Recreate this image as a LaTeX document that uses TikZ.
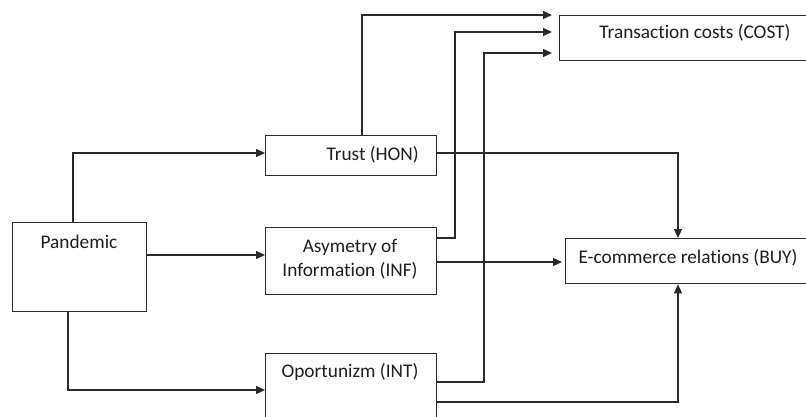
\documentclass[tikz,border=0pt]{standalone}
\usepackage{fontspec}
\setmainfont[Ligatures={NoCommon}]{Carlito}
\usetikzlibrary{arrows.meta,calc}
\definecolor{ln}{HTML}{2A2A2A}
\definecolor{tx}{HTML}{1E1E1E}
\begin{document}
\begin{tikzpicture}[x=1pt,y=-1pt,
  box/.style={draw=ln,line width=1.3pt,rectangle,inner sep=0pt,anchor=north west},
  lbl/.style={text=tx,font=\fontsize{19.3}{24}\selectfont,inner sep=0pt,align=center},
  arr/.style={draw=ln,line width=1.3pt,-{Triangle[length=9pt,width=8pt]}},
  con/.style={draw=ln,line width=1.3pt}]
\useasboundingbox (0,0) rectangle (806,417);
\clip (0,0) rectangle (806,417);
% boxes
\node[box,minimum width=134pt,minimum height=89pt] (pan) at (12,222) {};
\node[box,minimum width=171pt,minimum height=40pt] (hon) at (265,135) {};
\node[box,minimum width=171pt,minimum height=67pt] (inf) at (265,227) {};
\node[box,minimum width=171pt,minimum height=80pt] (int) at (265,353) {};
\node[box,minimum width=260pt,minimum height=45pt] (cost) at (559,15) {};
\node[box,minimum width=260pt,minimum height=45pt] (buy) at (565,238) {};
% texts
\node[lbl] (tpan) at (79,242) {Pandemic};
\node[lbl,anchor=east] (thon) at (419,155) {Trust (HON)};
\node[lbl] (tinf) at (350,259) {Asymetry of\\Information (INF)};
\node[lbl] (tint) at (350,372) {Oportunizm (INT)};
\node[lbl] (tcost) at (695,33) {Transaction costs (COST)};
\node[lbl] (tbuy) at (688,258) {E-commerce relations (BUY)};
% bend points
\coordinate (b1) at (73,153);
\coordinate (b3) at (68,390);
\coordinate (b4) at (362,15);
\coordinate (b5) at (455,32);
\coordinate (b5s) at (455,238);
\coordinate (b6) at (484,53);
\coordinate (b6s) at (484,382);
\coordinate (b7) at (678,153);
\coordinate (b8) at (436,262);
\coordinate (b9) at (678,402);
\coordinate (b2) at (146,255);
% connectors
\draw[arr] (b1 |- pan.north) -- (b1) -- (b1 -| hon.west);
\draw[arr] (b2) -- (b2 -| inf.west);
\draw[arr] (b3 |- pan.south) -- (b3) -- (b3 -| int.west);
\draw[arr,shorten >=7pt] (b4 |- hon.north) -- (b4) -- (b4 -| cost.west);
\draw[arr,shorten >=7pt] (b5s -| inf.east) -- (b5s) -- (b5) -- (b5 -| cost.west);
\draw[arr,shorten >=7pt] (b6s -| int.east) -- (b6s) -- (b6) -- (b6 -| cost.west);
\draw[arr] (b7 -| hon.east) -- (b7) -- (b7 |- buy.north);
\draw[arr,shorten >=3pt] (b8) -- (b8 -| buy.west);
\draw[arr] (b9 -| int.east) -- (b9) -- (b9 |- buy.south);
\end{tikzpicture}
\end{document}
